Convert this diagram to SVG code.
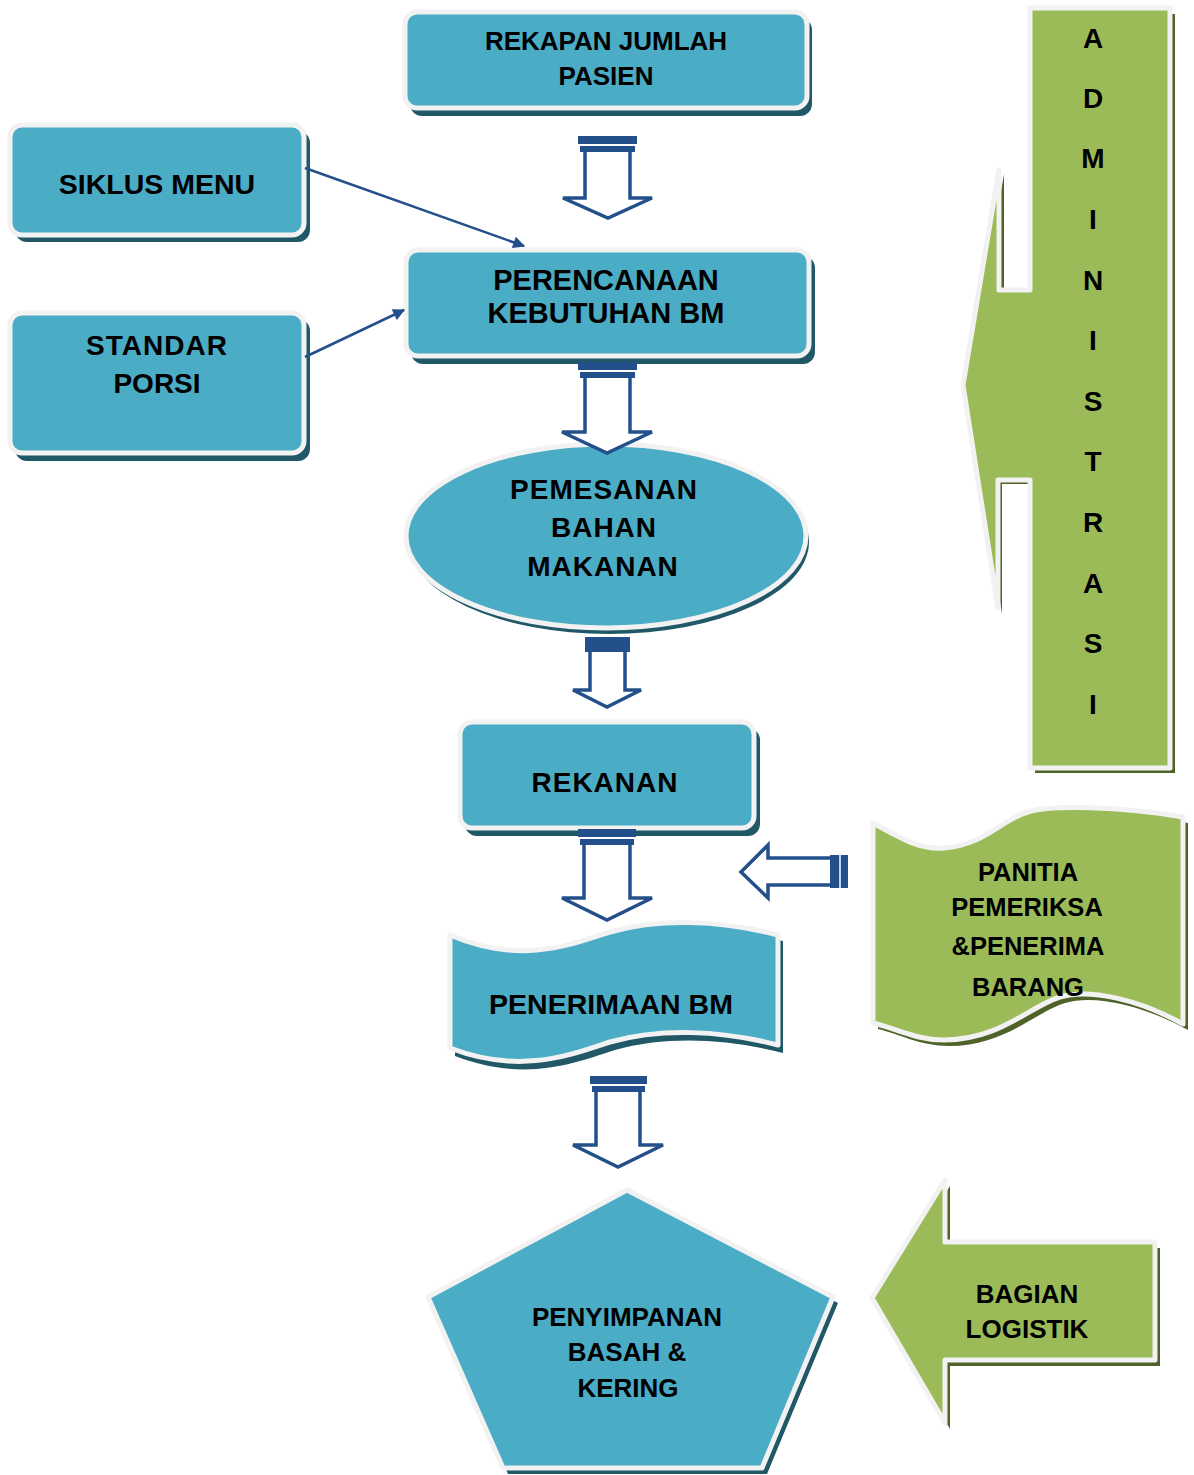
<svg xmlns="http://www.w3.org/2000/svg" width="1194" height="1475" viewBox="0 0 1194 1475">
<defs>
<marker id="ah" viewBox="0 0 10 10" refX="9" refY="5" markerWidth="14" markerHeight="12" orient="auto" markerUnits="userSpaceOnUse">
<path d="M0,0 L10,5 L0,10 Z" fill="#23508A"/>
</marker>
<style>
.sh{fill:#215868}
.bx{fill:#4BACC6;stroke:#F2F2F2;stroke-width:5;stroke-linejoin:round}
.gsh{fill:#4F6228}
.gbx{fill:#9BBB59;stroke:#F2F2F2;stroke-width:5;stroke-linejoin:round}
.t{font-family:"Liberation Sans",Arial,sans-serif;font-weight:bold;fill:#000;text-anchor:middle}
.ba{fill:#fff;stroke:#23508A;stroke-width:3.5;stroke-linejoin:miter}
.bar{fill:#23508A}
.ln{stroke:#23508A;stroke-width:2.5;fill:none}
</style>
</defs>
<rect width="1194" height="1475" fill="#fff"/>

<g id="rekapan">
<rect class="sh" x="410" y="18" width="402" height="98" rx="12"/>
<rect class="bx" x="405" y="12" width="402" height="96" rx="12"/>
<text class="t" x="606" y="50" font-size="26">REKAPAN JUMLAH</text>
<text class="t" x="606" y="85" font-size="26">PASIEN</text>
</g>

<g id="siklus">
<rect class="sh" x="15" y="131" width="295" height="111" rx="12"/>
<rect class="bx" x="10" y="125" width="294" height="110" rx="12"/>
<text class="t" x="157" y="194" font-size="28.5">SIKLUS MENU</text>
</g>

<g id="perencanaan">
<rect class="sh" x="411" y="256" width="404" height="108" rx="12"/>
<rect class="bx" x="406" y="250" width="403" height="106" rx="12"/>
<text class="t" x="606" y="290" font-size="29">PERENCANAAN</text>
<text class="t" x="606" y="323" font-size="29">KEBUTUHAN BM</text>
</g>

<g id="standar">
<rect class="sh" x="15" y="319" width="295" height="142" rx="12"/>
<rect class="bx" x="10" y="313" width="294" height="140" rx="12"/>
<text class="t" x="157" y="355" font-size="28" letter-spacing="1">STANDAR</text>
<text class="t" x="157" y="393" font-size="28">PORSI</text>
</g>

<g id="pemesanan">
<ellipse class="sh" cx="609" cy="542" rx="200" ry="92"/>
<ellipse class="bx" cx="606" cy="536" rx="200" ry="92"/>
<text class="t" x="604" y="499" font-size="28" letter-spacing="1">PEMESANAN</text>
<text class="t" x="604" y="537" font-size="28" letter-spacing="1">BAHAN</text>
<text class="t" x="603" y="576" font-size="28" letter-spacing="1">MAKANAN</text>
</g>

<g id="rekanan">
<rect class="sh" x="465" y="728" width="295" height="108" rx="12"/>
<rect class="bx" x="460" y="722" width="294" height="106" rx="12"/>
<text class="t" x="605" y="792" font-size="28" letter-spacing="1">REKANAN</text>
</g>

<g id="penerimaan">
<path class="sh" d="M455,941 C525,971 575,951 615,938 C665,924 725,926 783,941 L783,1053 C725,1038 665,1036 615,1050 C575,1063 525,1083 455,1056 Z"/>
<path class="bx" d="M450,935 C520,965 570,945 610,932 C660,918 720,920 778,935 L778,1045 C720,1030 660,1028 610,1042 C570,1055 520,1075 450,1048 Z"/>
<text class="t" x="611" y="1014" font-size="28.5">PENERIMAAN BM</text>
</g>

<g id="penyimpanan">
<polygon class="sh" points="632,1196 433,1303 508,1474 767,1474 838,1303"/>
<polygon class="bx" points="627,1190 428,1297 503,1468 762,1468 833,1297"/>
<text class="t" x="627" y="1326" font-size="26">PENYIMPANAN</text>
<text class="t" x="627" y="1361" font-size="26">BASAH &amp;</text>
<text class="t" x="628" y="1397" font-size="26">KERING</text>
</g>

<g id="administrasi">
<path class="gsh" d="M1035,14 H1175 V773 H1035 V484 H1002 V614 L967,391 L1004,174 V296 H1035 Z"/>
<path class="gbx" d="M1030,8 H1170 V768 H1030 V480 H998 V608 L963,385 L999,170 V290 H1030 Z"/>
<g class="t" font-size="28">
<text x="1093" y="48">A</text>
<text x="1093" y="108">D</text>
<text x="1093" y="168">M</text>
<text x="1093" y="229">I</text>
<text x="1093" y="290">N</text>
<text x="1093" y="350">I</text>
<text x="1093" y="411">S</text>
<text x="1093" y="471">T</text>
<text x="1093" y="532">R</text>
<text x="1093" y="593">A</text>
<text x="1093" y="653">S</text>
<text x="1093" y="714">I</text>
</g>
</g>

<g id="panitia">
<path class="gsh" d="M878,829 C905,844 925,856 949,854 C990,851 1005,826 1033,818 C1055,811 1125,812 1188,823 L1188,1030 C1145,1006 1095,994 1065,1003 C1035,1012 1005,1046 949,1046 C920,1046 900,1034 878,1029 Z"/>
<path class="gbx" d="M873,823 C900,838 920,850 944,848 C985,845 1000,820 1028,812 C1050,805 1120,806 1183,817 L1183,1024 C1140,1000 1090,988 1060,997 C1030,1006 1000,1040 944,1040 C915,1040 895,1028 873,1023 Z"/>
<text class="t" x="1028" y="881" font-size="25.5">PANITIA</text>
<text class="t" x="1027" y="916" font-size="25.5">PEMERIKSA</text>
<text class="t" x="1028" y="955" font-size="25.5">&amp;PENERIMA</text>
<text class="t" x="1028" y="996" font-size="25.5">BARANG</text>
</g>

<g id="logistik">
<path class="gsh" d="M877,1304 L950,1186 V1248 H1160 V1366 H950 V1429 Z"/>
<path class="gbx" d="M872,1298 L945,1180 V1242 H1155 V1360 H945 V1423 Z"/>
<text class="t" x="1027" y="1303" font-size="26">BAGIAN</text>
<text class="t" x="1027" y="1338" font-size="26">LOGISTIK</text>
</g>

<g id="connectors">
<line class="ln" x1="305" y1="168" x2="524" y2="246" marker-end="url(#ah)"/>
<line class="ln" x1="305" y1="357" x2="404" y2="310" marker-end="url(#ah)"/>

<rect class="bar" x="578" y="136" width="59" height="8"/>
<rect class="bar" x="580" y="146" width="55" height="6"/>
<path class="ba" d="M585,152 V198 H563 L608,218 L652,198 H630 V152"/>

<rect class="bar" x="578" y="362" width="59" height="8"/>
<rect class="bar" x="580" y="372" width="55" height="6"/>
<path class="ba" d="M585,378 V432 H562 L607,453 L652,432 H630 V378"/>

<rect class="bar" x="585" y="637" width="45" height="15"/>
<path class="ba" d="M590,652 V690 H573 L607,707 L641,690 H625 V652"/>

<rect class="bar" x="578" y="829" width="58" height="8"/>
<rect class="bar" x="580" y="839" width="54" height="6"/>
<path class="ba" d="M584,845 V898 H562 L607,920 L652,898 H630 V845"/>

<rect class="bar" x="590" y="1076" width="57" height="8"/>
<rect class="bar" x="592" y="1086" width="53" height="6"/>
<path class="ba" d="M596,1092 V1145 H573 L618,1167 L663,1145 H640 V1092"/>

<path class="ba" d="M830,858 H768 V845 L741,872 L768,898 V885 H830"/>
<rect class="bar" x="830" y="855" width="18" height="33"/>
<line x1="840" y1="855" x2="840" y2="888" stroke="#fff" stroke-width="1.5"/>
</g>
</svg>
